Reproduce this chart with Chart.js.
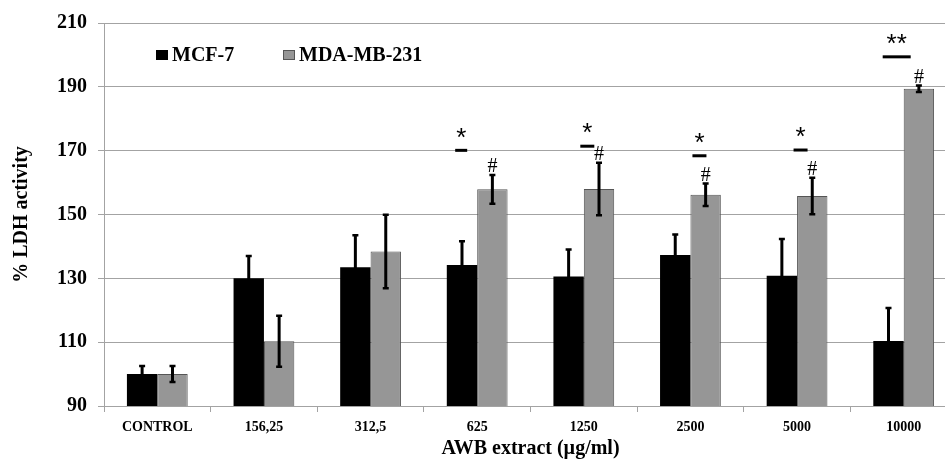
<!DOCTYPE html>
<html>
<head>
<meta charset="utf-8">
<script src="https://cdn.jsdelivr.net/npm/chart.js@4/dist/chart.umd.min.js"></script>
<style>
  html, body { margin: 0; padding: 0; background: #fff; overflow: hidden; }
  canvas { display: block; }
</style>
</head>
<body>
<canvas id="myCanvas" width="960" height="459"></canvas>
<script>
// data
const categories = ['CONTROL', '156,25', '312,5', '625', '1250', '2500', '5000', '10000'];
const mcf7 = [100, 130, 133.5, 134.2, 130.6, 137.3, 130.8, 110.4];
const mcf7Err = [2.5, 7, 10, 7.4, 8.4, 6.4, 11.5, 10.3];
const mda = [100, 110.3, 138.4, 157.9, 158, 156.2, 155.8, 189.4];
const mdaErr = [2.5, 8, 11.5, 4.5, 8.2, 3.5, 5.7, 1];
const yTicks = [90, 110, 130, 150, 170, 190, 210];

// significance marks
const sigLevel = [null, null, null, 170.1, 171.4, 168.4, 170.2, 199.4];
const sigMark = ['', '', '', '*', '*', '*', '*', '**'];
const hashMark = ['', '', '', '#', '#', '#', '#', '#'];

// drawing offsets for the marks (pixels from category centre)
const sigShift = [0, 0, 0, -16, 3.5, 9, 3.5, -7];
const sigWidth = [0, 0, 0, 12, 14, 14, 14, 28];

const serif = "'Liberation Serif', 'Times New Roman', serif";
const gridCol = '#a3a3a3';

const errors = [mcf7Err, mdaErr];

const extras = {
    id: 'extras',
    afterDatasetsDraw(chart) {
        const c = chart.ctx;
        const y = chart.scales.y;
        const x = chart.scales.x;

        // error bars
        c.save();
        c.strokeStyle = '#000';
        chart.data.datasets.forEach((ds, i) => {
            const meta = chart.getDatasetMeta(i);
            meta.data.forEach((bar, j) => {
                const v = ds.data[j];
                const e = errors[i][j];
                const top = y.getPixelForValue(v + e);
                const bot = y.getPixelForValue(v - e);
                c.lineWidth = 3;
                c.beginPath();
                c.moveTo(bar.x, top);
                c.lineTo(bar.x, bot);
                c.stroke();
                c.lineWidth = 2.5;
                c.beginPath();
                c.moveTo(bar.x - 3, top);
                c.lineTo(bar.x + 3, top);
                c.moveTo(bar.x - 3, bot);
                c.lineTo(bar.x + 3, bot);
                c.stroke();
            });
        });

        // significance lines, stars and hashes
        c.fillStyle = '#000';
        c.textAlign = 'center';
        c.textBaseline = 'middle';
        categories.forEach((cat, j) => {
            if (sigLevel[j] !== null) {
                const cx = x.getPixelForValue(j) + sigShift[j];
                const ly = y.getPixelForValue(sigLevel[j]);
                c.fillRect(cx - sigWidth[j] / 2, ly - 1.5, sigWidth[j], 3);
                c.font = "26px 'Liberation Sans', Arial, sans-serif";
                c.fillText(sigMark[j], cx, ly - 12);
            }
            if (hashMark[j]) {
                const bar = chart.getDatasetMeta(1).data[j];
                const ty = y.getPixelForValue(mda[j] + mdaErr[j]);
                c.font = '20px ' + serif;
                c.fillText(hashMark[j], bar.x, ty - 8);
            }
        });

        // legend inside the plot
        const ca = chart.chartArea;
        c.font = 'bold 20px ' + serif;
        c.textAlign = 'left';
        let lx = ca.left + 52;
        const ly = ca.top + 32;
        chart.data.datasets.forEach((ds, i) => {
            c.fillStyle = ds.backgroundColor;
            c.fillRect(lx, ly - 5, 12, 10);
            if (i === 1) {
                c.strokeStyle = '#555';
                c.lineWidth = 1;
                c.strokeRect(lx + 0.5, ly - 4.5, 11, 9);
            }
            c.fillStyle = '#000';
            c.fillText(ds.label, lx + 16, ly + 1);
            lx += 127;
        });
        c.restore();
    }
};

const chart = new Chart(document.getElementById('myCanvas').getContext('2d'), {
    type: 'bar',
    data: {
        labels: categories,
        datasets: [{
            label: 'MCF-7',
            data: mcf7,
            backgroundColor: '#000000',
            borderColor: '#000000',
            borderWidth: 0,
        }, {
            label: 'MDA-MB-231',
            data: mda,
            backgroundColor: '#969696',
            borderColor: '#555555',
            borderWidth: 1,
        }],
    },
    options: {
        responsive: false,
        animation: false,
        categoryPercentage: 0.57,
        barPercentage: 1,
        layout: { padding: { top: 20, right: 3, left: 0, bottom: 0 } },
        plugins: {
            legend: { display: false },
            tooltip: { enabled: false },
        },
        scales: {
            x: {
                afterFit(s) { s.height = 53; },
                grid: {
                    offset: true,
                    drawOnChartArea: false,
                    color: gridCol,
                    tickLength: 6,
                },
                border: { color: gridCol },
                ticks: {
                    color: '#000',
                    padding: 7,
                    font: { family: serif, size: 14, weight: 'bold' },
                },
                title: {
                    display: true,
                    text: 'AWB extract (µg/ml)',
                    color: '#000',
                    padding: 0,
                    font: { family: serif, size: 20, weight: 'bold', lineHeight: 1 },
                },
            },
            y: {
                min: 90,
                max: 210,
                afterFit(s) { s.width = 104; },
                afterBuildTicks(s) { s.ticks = yTicks.map(v => ({ value: v })); },
                grid: { color: gridCol, tickLength: 6 },
                border: { color: gridCol },
                ticks: {
                    color: '#000',
                    padding: 11,
                    font: { family: serif, size: 20, weight: 'bold' },
                },
                title: {
                    display: true,
                    text: '% LDH activity',
                    color: '#000',
                    padding: { top: 12 },
                    font: { family: serif, size: 20, weight: 'bold', lineHeight: 1 },
                },
            },
        },
    },
    plugins: [extras],
});
</script>
</body>
</html>
